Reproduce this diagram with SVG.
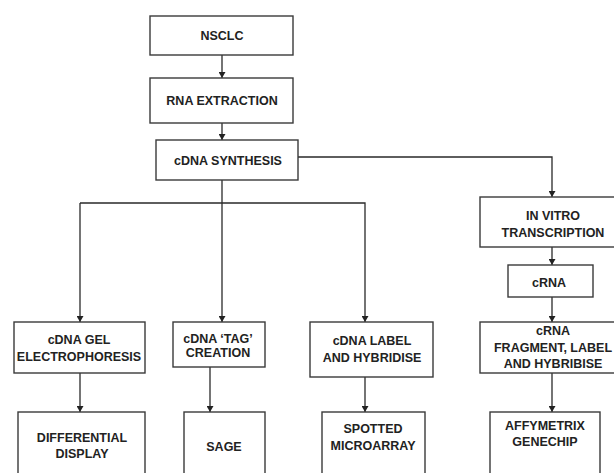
<svg xmlns="http://www.w3.org/2000/svg" width="614" height="473" viewBox="0 0 614 473">
<style>
.b{fill:#fff;stroke:#3a3a3a;stroke-width:1.4}
.t{font-family:"Liberation Sans",Arial,sans-serif;font-weight:bold;font-size:12.5px;fill:#222;text-anchor:middle}
.c{fill:none;stroke:#2a2a2a;stroke-width:1.3}
</style>
<defs>
<marker id="ah" markerWidth="7" markerHeight="7" refX="6" refY="3.5" orient="auto" markerUnits="userSpaceOnUse">
<path d="M0,0 L6,3.5 L0,7 Z" fill="#222"/>
</marker>
</defs>
<rect width="614" height="473" fill="#fff"/>
<g id="connectors">
<path class="c" d="M222,55 V78" marker-end="url(#ah)"/>
<path class="c" d="M222,123 V140" marker-end="url(#ah)"/>
<path class="c" d="M298,157 H552 V197" marker-end="url(#ah)"/>
<path class="c" d="M222,180 V322" marker-end="url(#ah)"/>
<path class="c" d="M80,203 H365 V322" marker-end="url(#ah)"/>
<path class="c" d="M80,203 V322" marker-end="url(#ah)"/>
<path class="c" d="M552,247 V265" marker-end="url(#ah)"/>
<path class="c" d="M552,297 V322" marker-end="url(#ah)"/>
<path class="c" d="M80,373 V412" marker-end="url(#ah)"/>
<path class="c" d="M210,367 V412" marker-end="url(#ah)"/>
<path class="c" d="M365,377 V412" marker-end="url(#ah)"/>
<path class="c" d="M552,373 V412" marker-end="url(#ah)"/>
</g>
<g id="nsclc"><rect class="b" x="150" y="16" width="143" height="39"/><text class="t" x="222" y="40">NSCLC</text></g>
<g id="rna-extraction"><rect class="b" x="150" y="78" width="143" height="45"/><text class="t" x="222" y="105">RNA EXTRACTION</text></g>
<g id="cdna-synthesis"><rect class="b" x="156" y="140" width="142" height="40"/><text class="t" x="228" y="165">cDNA SYNTHESIS</text></g>
<g id="in-vitro"><rect class="b" x="480" y="197" width="145" height="50"/><text class="t" x="553" y="220">IN VITRO</text><text class="t" x="553" y="237">TRANSCRIPTION</text></g>
<g id="crna"><rect class="b" x="508" y="265" width="85" height="32"/><text class="t" x="549" y="287">cRNA</text></g>
<g id="crna-fragment"><rect class="b" x="480" y="322" width="145" height="51"/><text class="t" x="553" y="335">cRNA</text><text class="t" x="553" y="352">FRAGMENT, LABEL</text><text class="t" x="553" y="368">AND HYBRIBISE</text></g>
<g id="cdna-gel"><rect class="b" x="14" y="322" width="131" height="51"/><text class="t" x="79" y="344">cDNA GEL</text><text class="t" x="79" y="361">ELECTROPHORESIS</text></g>
<g id="cdna-tag"><rect class="b" x="173" y="322" width="92" height="45"/><text class="t" x="218" y="343">cDNA ‘TAG’</text><text class="t" x="218" y="357">CREATION</text></g>
<g id="cdna-label"><rect class="b" x="310" y="322" width="123" height="55"/><text class="t" x="372" y="345">cDNA LABEL</text><text class="t" x="372" y="362">AND HYBRIDISE</text></g>
<g id="differential-display"><rect class="b" x="18" y="412" width="127" height="70"/><text class="t" x="82" y="442">DIFFERENTIAL</text><text class="t" x="82" y="458">DISPLAY</text></g>
<g id="sage"><rect class="b" x="184" y="412" width="81" height="70"/><text class="t" x="224" y="451">SAGE</text></g>
<g id="spotted-microarray"><rect class="b" x="322" y="412" width="103" height="70"/><text class="t" x="373" y="433">SPOTTED</text><text class="t" x="373" y="450">MICROARRAY</text></g>
<g id="affymetrix"><rect class="b" x="490" y="412" width="110" height="70"/><text class="t" x="545" y="430">AFFYMETRIX</text><text class="t" x="545" y="446">GENECHIP</text></g>
</svg>
